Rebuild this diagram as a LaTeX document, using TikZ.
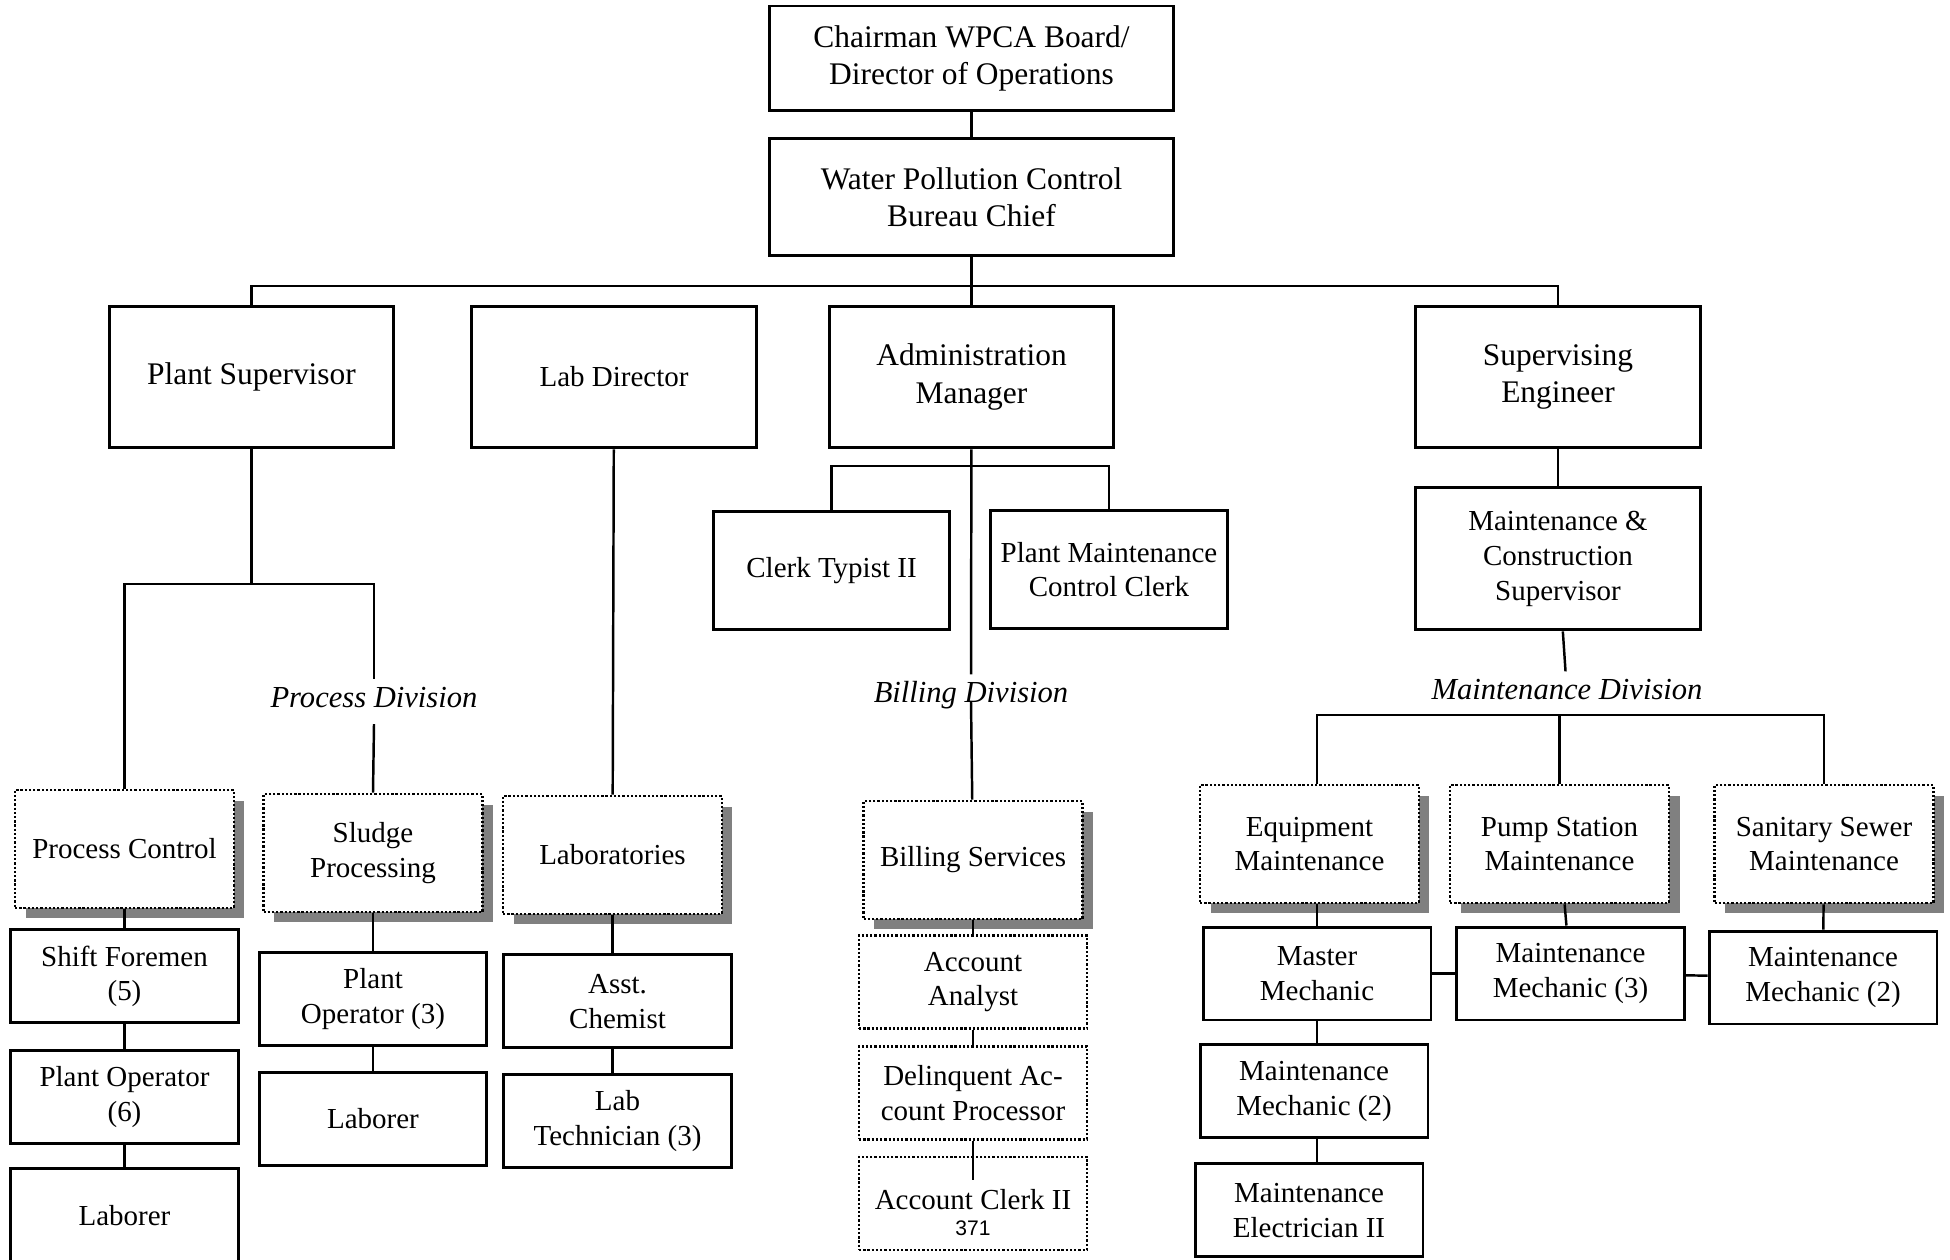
\documentclass[tikz,border=0pt]{standalone}
\usepackage{fontspec}
\setmainfont{Liberation Serif}
\newfontfamily\sansnum{Liberation Sans}
\usetikzlibrary{positioning,shadows}

\begin{document}
\begin{tikzpicture}[
  x=0.02cm, y=-0.02cm,
  box/.style={draw, line width=1.7pt, fill=white, align=center, inner sep=2pt,
              font=\fontsize{16.5}{19.8}\selectfont},
  big/.style={font=\fontsize{17.9}{21.2}\selectfont},
  topbox/.style={box, big, minimum width=8.1cm},
  mgrbox/.style={box, minimum width=5.7cm, minimum height=2.84cm},
  clerkbox/.style={box, minimum width=4.74cm, minimum height=2.38cm},
  postbox/.style={box, minimum width=4.56cm, minimum height=1.86cm},
  dotline/.style={line width=1.5pt, dash pattern=on 1.3pt off 1.1pt},
  unitbox/.style={box, dotline, minimum width=4.38cm, minimum height=2.36cm,
              drop shadow={shadow xshift=0.21cm, shadow yshift=-0.21cm,
                           opacity=1, fill=black!50, draw=none}},
  dotbox/.style={postbox, dotline},
  divlabel/.style={anchor=base, inner xsep=2pt, inner ysep=0.3cm,
              text height=0.7em, text depth=0.1em,
              font=\itshape\fontsize{17.4}{20}\selectfont},
  link/.style={line width=1.4pt}
]
  \useasboundingbox (0,0) rectangle (1950,1260);

  \node[topbox, minimum height=2.1cm] (chair) at (971.5,58.5) {Chairman WPCA Board/\\Director of Operations};
  \node[topbox, minimum height=2.34cm, below=0.5cm of chair] (chief) {Water Pollution Control\\Bureau Chief};

  \node[mgrbox, big] (plantsup) at (251.5,377) {Plant Supervisor};
  \node[mgrbox] (labdir) at (614,377) {Lab Director};
  \node[mgrbox, big] (adminmgr) at (971.5,377) {Administration\\Manager};
  \node[mgrbox, big] (supeng) at (1558,377) {Supervising\\Engineer};
  \node[clerkbox] (clerk) at (831.5,570.5) {Clerk Typist II};
  \node[clerkbox] (pmcc) at (1109,569.5) {Plant Maintenance\\Control Clerk};
  \node[mgrbox, below=0.74cm of supeng] (mcsup) {Maintenance \&\\Construction\\Supervisor};

  \node[divlabel] (procdiv) at (374,707) {Process Division};
  \node[divlabel] (billdiv) at (971,702) {Billing Division};
  \node[divlabel] (maintdiv) at (1567,699) {Maintenance Division};

  \node[unitbox] (proc) at (124.5,849) {Process Control};
  \node[postbox, below=0.38cm of proc] (shiftf) {Shift Foremen\\(5)};
  \node[postbox, below=0.5cm of shiftf] (opsix) {Plant Operator\\(6)};
  \node[postbox, below=0.44cm of opsix] (laborA) {Laborer};

  \node[unitbox] (sludge) at (373,853) {Sludge\\Processing};
  \node[postbox, below=0.76cm of sludge] (opthree) {Plant\\Operator (3)};
  \node[postbox, below=0.47cm of opthree] (laborB) {Laborer};

  \node[unitbox] (labs) at (612.5,855) {Laboratories};
  \node[postbox, below=0.76cm of labs, xshift=0.1cm] (chemist) {Asst.\\Chemist};
  \node[postbox, below=0.47cm of chemist] (labtech) {Lab\\Technician (3)};

  \node[unitbox] (billing) at (973,860) {Billing Services};
  \node[dotbox, below=0.28cm of billing] (analyst) {Account\\Analyst};
  \node[dotbox, below=0.3cm of analyst] (delinq) {Delinquent Ac-\\count Processor};
  \node[dotbox, below=0.3cm of delinq] (acctclerk) {\rule{0pt}{22pt}Account Clerk II\\[-5pt]{\sansnum\fontsize{12}{13}\selectfont 371}};

  \node[unitbox] (equip) at (1309.5,844) {Equipment\\Maintenance};
  \node[unitbox] (pump) at (1559.5,844) {Pump Station\\Maintenance};
  \node[unitbox] (sewer) at (1824,844) {Sanitary Sewer\\Maintenance};
  \node[postbox] (master) at (1317,973.5) {Master\\Mechanic};
  \node[postbox] (mechthree) at (1570.5,973.5) {Maintenance\\Mechanic (3)};
  \node[postbox] (mechtwo) at (1823,977.5) {Maintenance\\Mechanic (2)};
  \node[postbox, below=0.44cm of master, xshift=-0.06cm] (mechtwob) {Maintenance\\Mechanic (2)};
  \node[postbox, below=0.46cm of mechtwob, xshift=-0.1cm] (elec) {Maintenance\\Electrician II};

  \coordinate (bus) at (0,286);
  \coordinate (ajoin) at (0,466);
  \coordinate (pjoin) at (0,584);
  \coordinate (mbus) at (0,715);

  \draw[link] (chair) -- (chief);
  \draw[link] (chief) -- (adminmgr);
  \draw[link] (plantsup.north) |- (bus -| supeng.north) -- (supeng.north);

  \draw[link] (plantsup) -- (plantsup |- pjoin);
  \draw[link] (proc.north) |- (pjoin -| procdiv.north) -- (procdiv.north);
  \draw[link] (procdiv.south) -- (sludge.north);
  \draw[link] (proc) -- (shiftf);
  \draw[link] (shiftf) -- (opsix);
  \draw[link] (opsix) -- (laborA);
  \draw[link] (sludge) -- (opthree);
  \draw[link] (opthree) -- (laborB);

  \draw[link] (labdir) -- (labs);
  \draw[link] (labs.south) -- (labs.south |- chemist.north);
  \draw[link] (labs.south |- chemist.south) -- (labs.south |- labtech.north);

  \draw[link] (adminmgr) -- (billdiv);
  \draw[link] (clerk.north) |- (ajoin -| pmcc.north) -- (pmcc.north);
  \draw[link] (billdiv.base) -- (billing);
  \draw[link] (billing) -- (analyst);
  \draw[link] (analyst) -- (delinq);
  \draw[link] (delinq.south) -- ([yshift=-0.48cm]acctclerk.north);

  \draw[link] (supeng) -- (mcsup);
  \draw[link] (mcsup) -- (maintdiv);
  \draw[link] (master.north |- equip.north) |- (mbus -| sewer.north) -- (sewer.north);
  \draw[link] (pump.north) -- (pump.north |- mbus);
  \draw[link] (master.north |- equip.south) -- (master.north);
  \draw[link] (pump) -- (mechthree);
  \draw[link] (sewer) -- (mechtwo);
  \draw[link] (master) -- (mechthree);
  \draw[link] (mechthree) -- (mechtwo);
  \draw[link] (master.south) -- (master.south |- mechtwob.north);
  \draw[link] (master.south |- mechtwob.south) -- (master.south |- elec.north);
\end{tikzpicture}
\end{document}
